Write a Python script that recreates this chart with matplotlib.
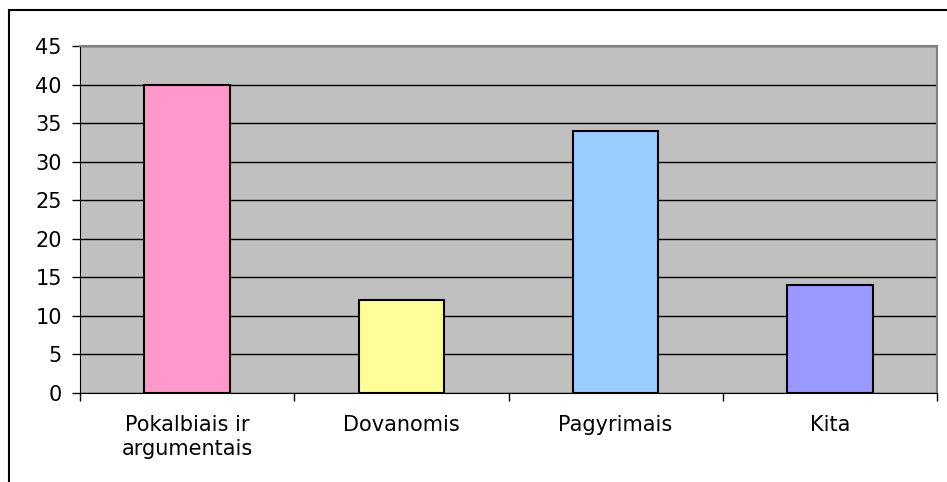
import numpy as np
from matplotlib import pyplot as plt
from matplotlib.patches import Rectangle

# Data
categories = ["Pokalbiais ir\nargumentais", "Dovanomis", "Pagyrimais", "Kita"]
values = [40, 12, 34, 14]
bar_colors = ["#FF99CC", "#FFFF99", "#99CCFF", "#9999FF"]

plt.rcParams['font.family'] = ['DejaVu Sans']

W, H = 947, 482
fig = plt.figure(figsize=(W / 100, H / 100), dpi=100)

# outer chart frame (only top/left visible in the crop)
fig.patches.append(Rectangle((9 / W, -0.1), 1.2, (H - 10) / H + 0.1, transform=fig.transFigure,
                             fill=False, edgecolor="black", linewidth=1.5, zorder=0))

left, right, top, bottom = 80, 937, 46, 393
ax = fig.add_axes([left / W, 1 - bottom / H, (right - left) / W, (bottom - top) / H])
ax.set_facecolor("#C0C0C0")

x_pos = np.arange(len(categories))
ax.bar(x_pos, values, width=0.4, color=bar_colors, edgecolor="black", linewidth=1.5, zorder=3)

ax.set_xlim(-0.5, len(categories) - 0.5)
ax.set_ylim(0, 45)
ax.set_yticks(np.arange(0, 46, 5))
ax.yaxis.grid(True, color="black", linewidth=1, zorder=1)
ax.set_axisbelow(True)

# category ticks at boundaries, labels centered
ax.set_xticks(np.arange(-0.5, len(categories)), minor=False)
ax.set_xticklabels([])
ax.set_xticks(x_pos, minor=True)
ax.set_xticklabels(categories, minor=True, fontsize=15, linespacing=1.25)
ax.tick_params(axis="x", which="minor", length=0, pad=16)
ax.tick_params(axis="x", which="major", length=6, width=1, direction="out")
ax.tick_params(axis="y", length=6, width=1, direction="out", labelsize=15, pad=7)

for s in ["top", "right"]:
    ax.spines[s].set_color("#808080")
    ax.spines[s].set_linewidth(1.5)
ax.spines["left"].set_color("black")
ax.spines["bottom"].set_color("black")

fig.savefig("out.png", dpi=100)
